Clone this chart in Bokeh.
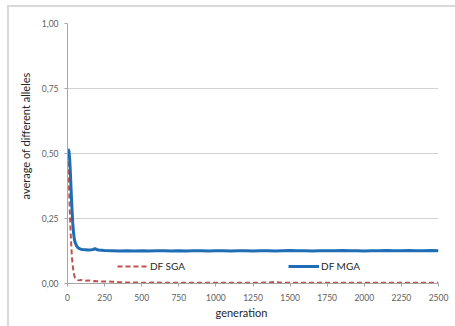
from bokeh.plotting import figure
from bokeh.models import (ColumnDataSource, FixedTicker, Range1d, Legend, LegendItem, Title)
from bokeh.embed import file_html
from bokeh.resources import INLINE

# ---------------- data ----------------
generation = [0, 5, 10, 15, 20, 25, 30, 35, 40, 45, 50, 60, 70, 80, 90, 100,
              120, 140, 160, 175, 185, 195, 210, 230, 250,
              300, 350, 400, 450, 500, 550, 600, 650, 700, 750, 800, 850, 900,
              950, 1000, 1050, 1100, 1150, 1200, 1250, 1300, 1350, 1400, 1450,
              1500, 1550, 1600, 1650, 1700, 1750, 1800, 1850, 1900, 1950, 2000,
              2050, 2100, 2150, 2200, 2250, 2300, 2350, 2400, 2450, 2500]

df_mga = [0.512, 0.516, 0.508, 0.475, 0.42, 0.35, 0.29, 0.235, 0.2, 0.175, 0.16,
          0.146, 0.138, 0.134, 0.132, 0.131, 0.130, 0.129, 0.130, 0.131, 0.134,
          0.131, 0.129, 0.128, 0.127,
          0.126, 0.125, 0.126, 0.125, 0.126, 0.125, 0.126, 0.126, 0.125, 0.126,
          0.125, 0.126, 0.126, 0.125, 0.126, 0.126, 0.125, 0.126, 0.126, 0.125,
          0.126, 0.126, 0.125, 0.126, 0.127, 0.126, 0.126, 0.125, 0.126, 0.126,
          0.126, 0.127, 0.126, 0.126, 0.125, 0.126, 0.126, 0.127, 0.126, 0.126,
          0.127, 0.126, 0.126, 0.127, 0.126]

df_sga = [0.50, 0.46, 0.38, 0.29, 0.21, 0.15, 0.10, 0.07, 0.047, 0.032, 0.023,
          0.016, 0.013, 0.012, 0.014, 0.012, 0.011, 0.012, 0.010, 0.009, 0.010,
          0.009, 0.009, 0.008, 0.008,
          0.007, 0.005, 0.004, 0.004, 0.003, 0.003, 0.004, 0.003, 0.003, 0.003,
          0.003, 0.003, 0.003, 0.003, 0.003, 0.003, 0.003, 0.003, 0.003, 0.003,
          0.003, 0.004, 0.006, 0.003, 0.003, 0.003, 0.003, 0.003, 0.003, 0.003,
          0.003, 0.003, 0.003, 0.003, 0.003, 0.003, 0.003, 0.003, 0.003, 0.003,
          0.003, 0.003, 0.003, 0.003, 0.003]

x_ticks = [0, 250, 500, 750, 1000, 1250, 1500, 1750, 2000, 2250, 2500]
y_ticks = [0.0, 0.25, 0.5, 0.75, 1.0]
y_tick_labels = ["0,00", "0,25", "0,50", "0,75", "1,00"]

series_names = ["DF SGA", "DF MGA"]
x_title = "generation"
y_title = "average of different alleles"

# ---------------- figure ----------------
FONT = "Lato"
p = figure(frame_width=371, frame_height=260,
           min_border_left=58, min_border_right=17,
           min_border_top=16, min_border_bottom=43,
           margin=(5, 0, 0, 7),
           styles={"border-left": "2px solid #d9d9d9", "border-top": "2px solid #d9d9d9"},
           x_range=Range1d(0, 2500), y_range=Range1d(0, 1.0),
           output_backend="svg", toolbar_location=None)
p.outline_line_color = None
p.background_fill_color = "white"
p.border_fill_color = "white"

src = ColumnDataSource(dict(g=generation, sga=df_sga, mga=df_mga))
r_sga = p.line("g", "sga", source=src, line_color="#c0504d", line_width=2,
               line_dash="5 3")
r_mga = p.line("g", "mga", source=src, line_color="#1f6db4", line_width=3)

p.xaxis.ticker = FixedTicker(ticks=x_ticks)
p.yaxis.ticker = FixedTicker(ticks=y_ticks)
p.yaxis.major_label_overrides = {t: l for t, l in zip(y_ticks, y_tick_labels)}
for ax in (p.xaxis, p.yaxis):
    ax.axis_line_color = "#a6a6a6"
    ax.major_tick_line_color = "#a6a6a6"
    ax.major_tick_out = 3
    ax.major_tick_in = 0
    ax.minor_tick_out = 0
    ax.minor_tick_in = 0
    ax.major_label_text_font = FONT
    ax.major_label_text_font_size = "8.5px"
    ax.major_label_text_color = "#606060"
    ax.major_label_standoff = 6
p.xaxis.major_label_standoff = 7

p.xgrid.grid_line_color = None
p.ygrid.grid_line_color = "#d3d3d3"
p.ygrid.ticker = FixedTicker(ticks=y_ticks)

# axis titles
p.add_layout(Title(text=x_title, text_font=FONT, text_font_size="11px",
                   text_font_style="normal", text_color="#262626",
                   align="left", offset=148, standoff=0), "below")
p.add_layout(Title(text=y_title, text_font=FONT, text_font_size="11px",
                   text_font_style="normal", text_color="#262626",
                   align="right", offset=49, standoff=9,
                   vertical_align="top"), "left")

# legend kept inside the plot area (in the empty band between the two lines)
legend = Legend(items=[LegendItem(label=series_names[0], renderers=[r_sga]),
                       LegendItem(label=series_names[1], renderers=[r_mga])],
                orientation="horizontal", location=(50, 11),
                spacing=103, padding=0, margin=0,
                glyph_width=31, glyph_height=10, label_height=10,
                label_standoff=2, label_text_font=FONT,
                label_text_font_size="10px", label_text_color="#262626",
                background_fill_alpha=0, border_line_color=None)
p.add_layout(legend, "center")

open("out.html", "w").write(file_html(p, INLINE))
